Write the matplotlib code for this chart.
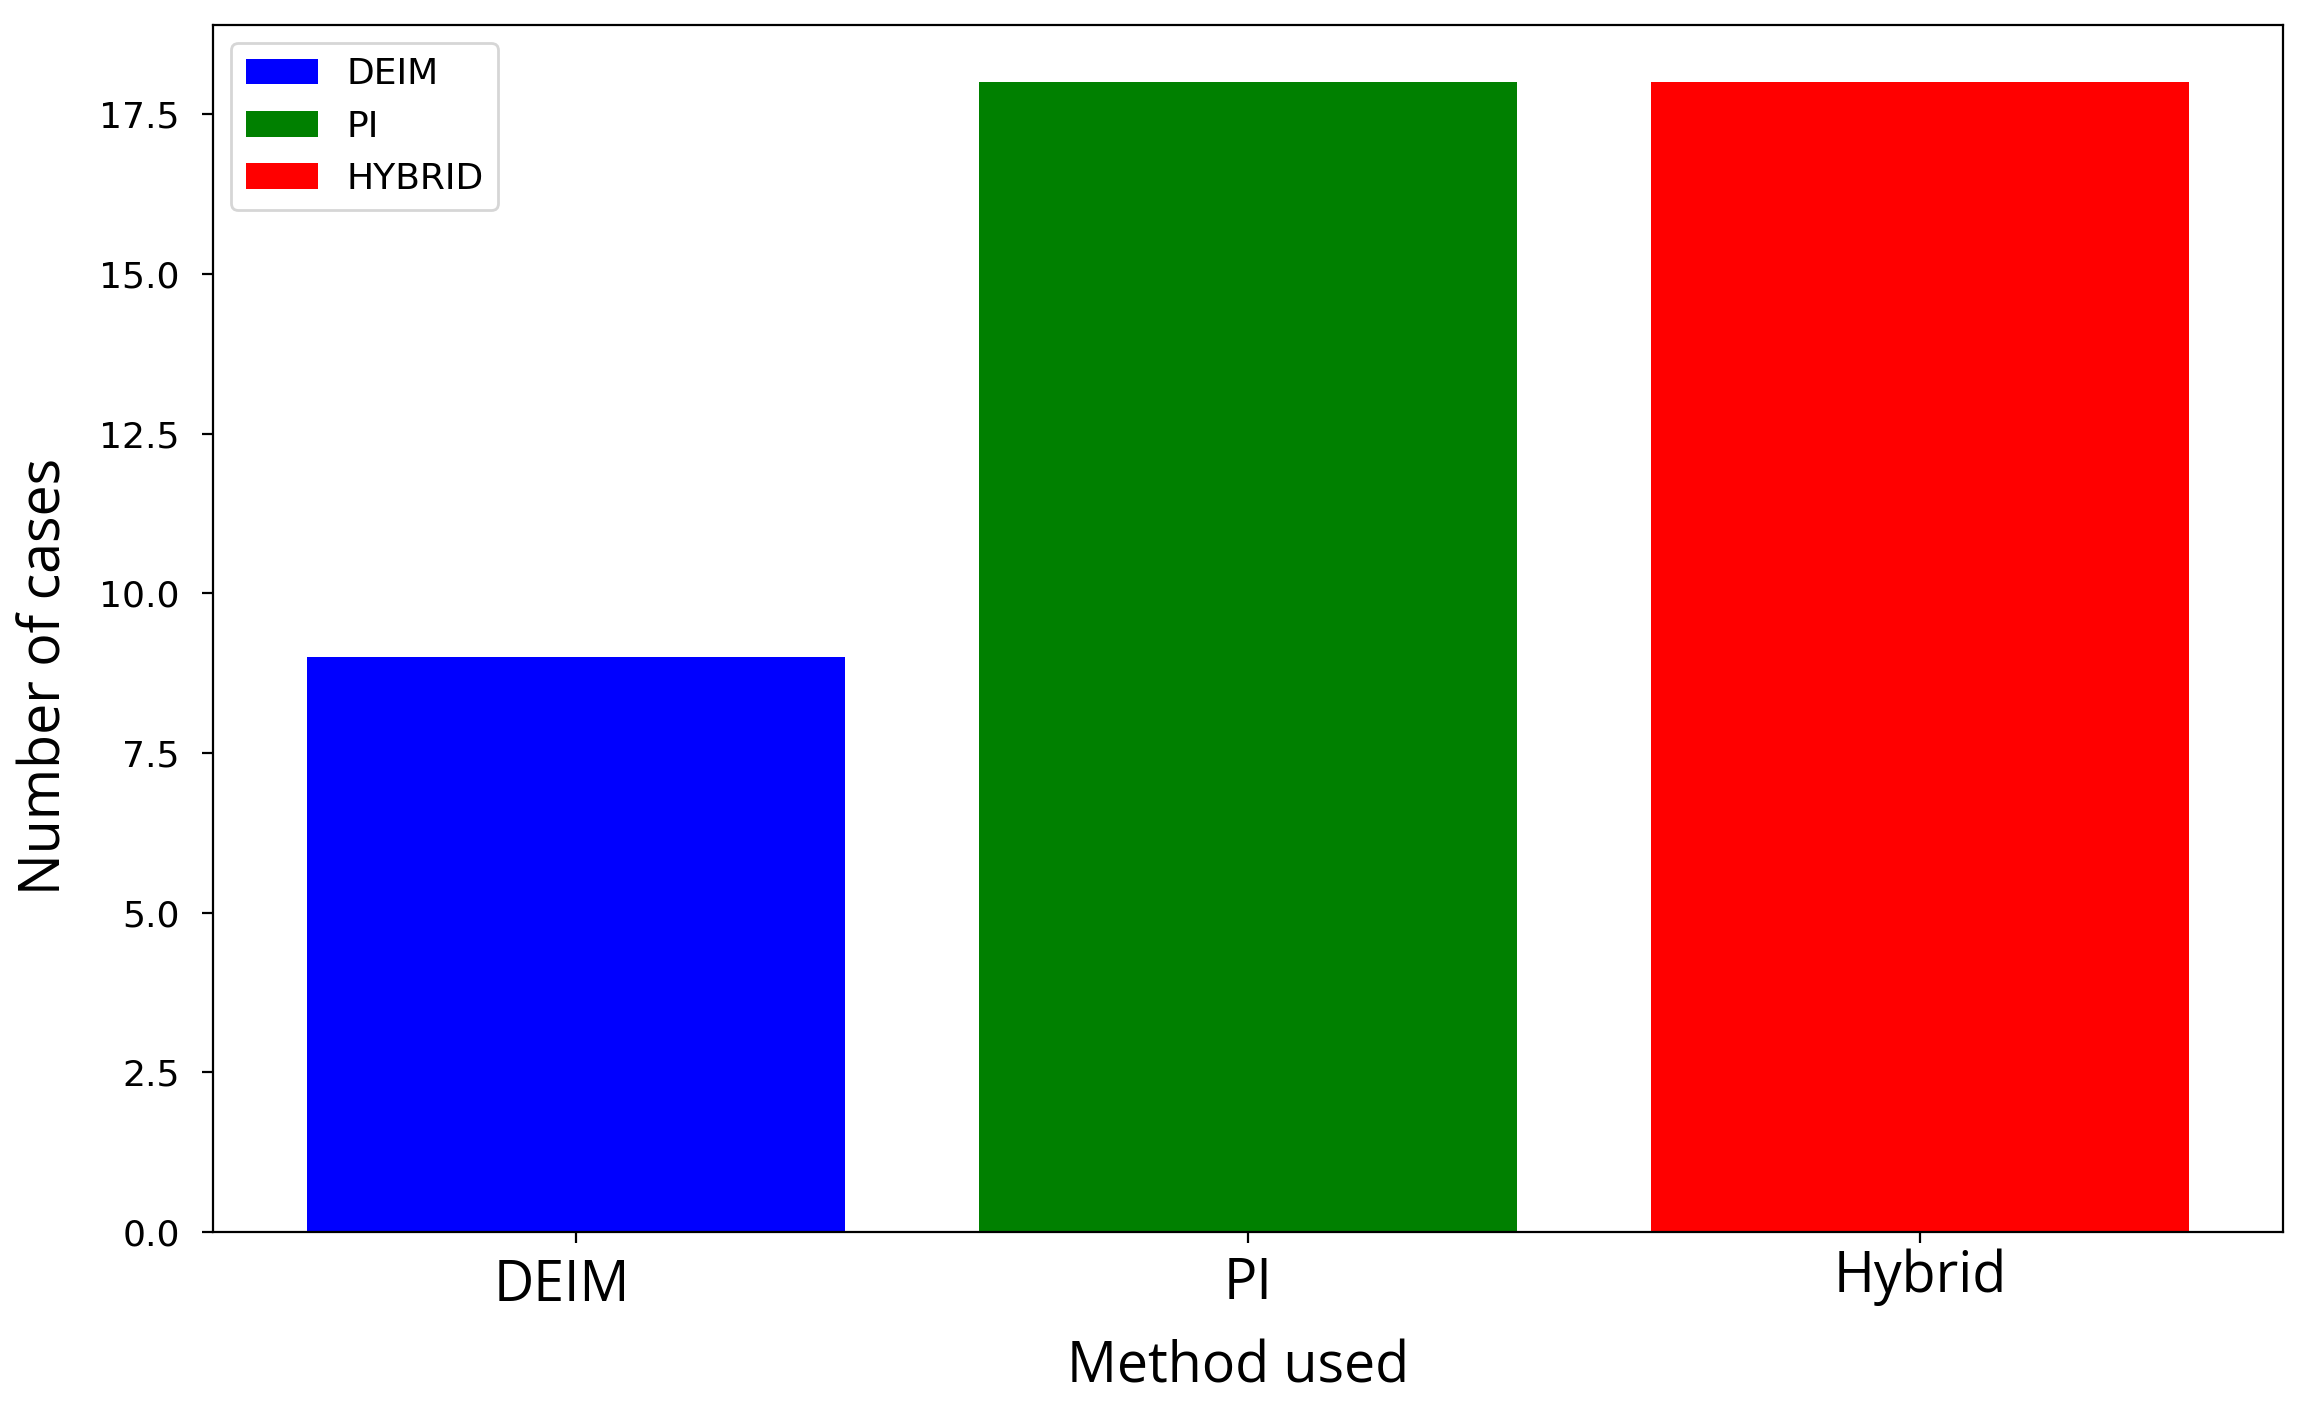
import matplotlib
matplotlib.use("Agg")
from matplotlib import pyplot as plt
from matplotlib.transforms import ScaledTranslation

# data
methods = ["DEIM", "PI", "Hybrid"]
legend_names = ["DEIM", "PI", "HYBRID"]
num_cases = [9, 18, 18]
bar_colors = ["blue", "green", "red"]

fig = plt.figure(figsize=(11.53, 7.02), dpi=200)
ax = fig.add_axes([0.0924, 0.1225, 0.8976, 0.8597])

bars = ax.bar(methods, num_cases, width=0.8, color=bar_colors)
for b, name in zip(bars, legend_names):
    b.set_label(name)

ax.tick_params(axis="y", labelsize=13, length=4, pad=8)
ax.tick_params(axis="x", length=4, pad=5.5)
ax.set_xticks(range(len(methods)))
ax.set_xticklabels(methods, fontsize=20, family="Open Sans")

# the original labels sit a little off the ticks
offsets = [(-0.07, 0.0), (0.0, 0.01), (0.0, 0.05)]
for lab, (dx, dy) in zip(ax.get_xticklabels(), offsets):
    lab.set_transform(lab.get_transform() + ScaledTranslation(dx, dy, fig.dpi_scale_trans))

ax.set_xlabel("Method used", fontsize=20, family="Open Sans")
ax.xaxis.set_label_coords(0.495, -0.089)
ax.set_ylabel("Number of cases", fontsize=20, family="Open Sans")
ax.yaxis.set_label_coords(-0.067, 0.46)

ax.legend(loc="upper left", fontsize=13)

plt.savefig("out.png", dpi=200)
